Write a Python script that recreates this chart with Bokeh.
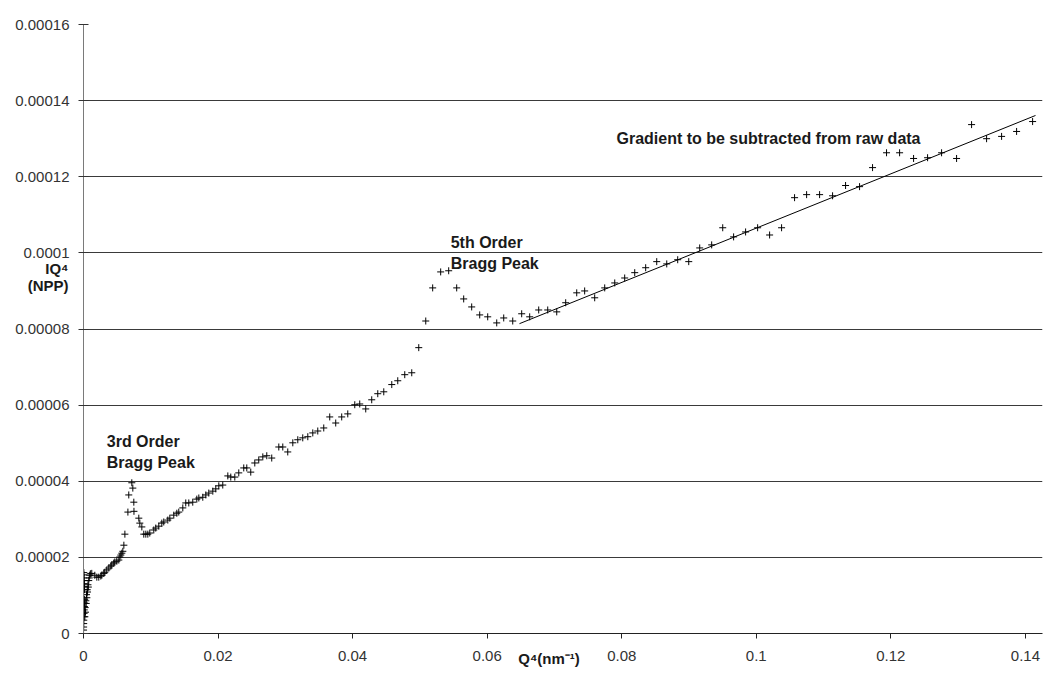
from bokeh.plotting import figure
from bokeh.models import Range1d, FixedTicker, CustomJSTickFormatter, Label, LinearAxis
from bokeh.embed import file_html
from bokeh.resources import INLINE

# Q^4 (nm^-4) and IQ^4 (NPP) readings
q4 = [
    0.00000, 0.00001, 0.00002, 0.00003, 0.00004, 0.00005, 0.00006, 0.00007,
    0.00008, 0.00009, 0.00010, 0.00011, 0.00012, 0.00013, 0.00014, 0.00015,
    0.00016, 0.00017,
    0.00020, 0.00025, 0.00030, 0.00035, 0.00040, 0.00045, 0.00050, 0.00055,
    0.00060, 0.00066, 0.00072, 0.00078, 0.00085, 0.00093, 0.00102,
    0.00123, 0.00168, 0.00198, 0.00227, 0.00257, 0.00272, 0.00302, 0.00317,
    0.00346, 0.00376, 0.00406, 0.00421, 0.00450, 0.00465, 0.00495, 0.00525,
    0.00540, 0.00555, 0.00570, 0.00585, 0.00600, 0.00615, 0.00660, 0.00673,
    0.00718, 0.00733, 0.00748, 0.00750, 0.00822, 0.00837, 0.00867, 0.00896,
    0.00926, 0.00956, 0.00985, 0.01045, 0.01074, 0.01119, 0.01164, 0.01193,
    0.01253, 0.01283, 0.01342, 0.01387, 0.01416, 0.01476, 0.01520, 0.01565,
    0.01624, 0.01684, 0.01714, 0.01773, 0.01818, 0.01862, 0.01922, 0.01966,
    0.02011, 0.02070, 0.02145, 0.02189, 0.02249, 0.02308, 0.02382, 0.02427,
    0.02486, 0.02546, 0.02605, 0.02665, 0.02724, 0.02798, 0.02903, 0.02962,
    0.03036, 0.03111, 0.03185, 0.03259, 0.03334, 0.03408, 0.03482, 0.03571,
    0.03660, 0.03749, 0.03838, 0.03928, 0.04032, 0.04106, 0.04195, 0.04284,
    0.04374, 0.04463, 0.04582, 0.04671, 0.04775, 0.04879, 0.04983, 0.05087,
    0.05190, 0.05309, 0.05428, 0.05547, 0.05651, 0.05770, 0.05889, 0.06008,
    0.06142, 0.06246, 0.06380, 0.06513, 0.06632, 0.06766, 0.06900, 0.07034,
    0.07167, 0.07331, 0.07449, 0.07598, 0.07747, 0.07896, 0.08044, 0.08193,
    0.08356, 0.08520, 0.08669, 0.08832, 0.08996, 0.09159, 0.09337, 0.09501,
    0.09663, 0.09841, 0.10020, 0.10198, 0.10376, 0.10569, 0.10748, 0.10941,
    0.11134, 0.11327, 0.11535, 0.11728, 0.11936, 0.12130, 0.12338, 0.12546,
    0.12754, 0.12977, 0.13200, 0.13423, 0.13646, 0.13869, 0.14107,
]
iq4 = [
    0.0e-6, 0.9e-6, 1.7e-6, 2.6e-6, 3.5e-6, 16.0e-6, 15.4e-6, 4.4e-6,
    14.6e-6, 5.3e-6, 13.9e-6, 6.2e-6, 13.1e-6, 7.1e-6, 12.3e-6, 8.0e-6,
    11.5e-6, 9.0e-6,
    4.4e-6, 6.8e-6, 5.6e-6, 8.6e-6, 7.9e-6, 10.2e-6, 9.4e-6, 11.5e-6,
    10.9e-6, 12.8e-6, 12.2e-6, 13.9e-6, 14.6e-6, 15.3e-6, 15.7e-6,
    15.8e-6, 15.3e-6, 14.8e-6, 14.8e-6, 15.1e-6, 15.3e-6, 15.8e-6, 16.1e-6,
    16.7e-6, 17.2e-6, 17.7e-6, 18.0e-6, 18.5e-6, 18.8e-6, 19.0e-6, 19.3e-6,
    20.1e-6, 20.6e-6, 21.1e-6, 21.6e-6, 23.2e-6, 26.1e-6, 31.9e-6, 36.4e-6,
    39.6e-6, 38.2e-6, 34.5e-6, 32.1e-6, 30.3e-6, 29.0e-6, 28.0e-6, 26.1e-6,
    26.1e-6, 26.1e-6, 26.4e-6, 27.2e-6, 27.7e-6, 28.2e-6, 29.0e-6, 29.3e-6,
    29.8e-6, 30.3e-6, 31.1e-6, 31.6e-6, 31.9e-6, 33.0e-6, 34.3e-6, 34.3e-6,
    34.5e-6, 35.3e-6, 35.6e-6, 35.8e-6, 36.4e-6, 36.9e-6, 37.4e-6, 38.0e-6,
    38.8e-6, 39.0e-6, 41.4e-6, 41.1e-6, 41.1e-6, 42.2e-6, 43.5e-6, 43.5e-6,
    42.4e-6, 44.8e-6, 45.6e-6, 46.4e-6, 46.7e-6, 46.1e-6, 49.0e-6, 49.0e-6,
    47.7e-6, 50.1e-6, 50.9e-6, 51.4e-6, 51.7e-6, 52.7e-6, 53.2e-6, 54.0e-6,
    56.9e-6, 55.3e-6, 56.9e-6, 57.7e-6, 60.1e-6, 60.3e-6, 59.0e-6, 61.4e-6,
    63.0e-6, 63.5e-6, 65.4e-6, 66.4e-6, 68.0e-6, 68.5e-6, 75.1e-6, 82.1e-6,
    90.8e-6, 95.0e-6, 95.3e-6, 90.8e-6, 87.9e-6, 85.8e-6, 83.7e-6, 83.2e-6,
    81.6e-6, 82.9e-6, 82.1e-6, 84.0e-6, 83.2e-6, 85.0e-6, 85.0e-6, 84.5e-6,
    86.9e-6, 89.5e-6, 90.0e-6, 88.2e-6, 90.8e-6, 92.1e-6, 93.4e-6, 94.8e-6,
    96.1e-6, 97.7e-6, 97.1e-6, 98.2e-6, 97.7e-6, 101.3e-6, 102.1e-6, 106.6e-6,
    104.2e-6, 105.5e-6, 106.6e-6, 104.7e-6, 106.6e-6, 114.5e-6, 115.3e-6, 115.3e-6,
    115.0e-6, 117.7e-6, 117.4e-6, 122.4e-6, 126.3e-6, 126.3e-6, 124.8e-6, 125.0e-6,
    126.3e-6, 124.8e-6, 133.7e-6, 130.0e-6, 130.6e-6, 131.9e-6, 134.5e-6,
]

# linear gradient fitted through the high-Q region
fit_q4 = [0.0648, 0.1415]
fit_iq4 = [81.4e-6, 136.1e-6]

x_ticks = [0.0, 0.02, 0.04, 0.06, 0.08, 0.10, 0.12, 0.14]
x_tick_labels = ["0", "0.02", "0.04", "0.06", "0.08", "0.1", "0.12", "0.14"]
y_ticks = [0.0, 0.00002, 0.00004, 0.00006, 0.00008, 0.00010, 0.00012, 0.00014, 0.00016]
y_tick_labels = ["0", "0.00002", "0.00004", "0.00006", "0.00008", "0.0001",
                 "0.00012", "0.00014", "0.00016"]

x_title = ["Q\u2074(nm\u207b\u00b9)"]
y_title = ["IQ\u2074", "(NPP)"]

FONT = "Liberation Sans"
TEXT = "#1a1a1a"

p = figure(
    width=1043, height=673,
    x_range=Range1d(0, 0.14254), y_range=Range1d(0, 0.00016),
    output_backend="svg", toolbar_location=None,
    min_border_left=83, min_border_right=1, min_border_top=24, min_border_bottom=40,
    outline_line_color=None, background_fill_color="white", border_fill_color="white",
)

label_code = """
let best = 0, d = Infinity;
for (let i = 0; i < tick_vals.length; i++) {
  const e = Math.abs(tick_vals[i] - tick);
  if (e < d) { d = e; best = i; }
}
return tick_text[best];
"""


def fmt(vals, texts):
    return CustomJSTickFormatter(args=dict(tick_vals=vals, tick_text=texts), code=label_code)


xa = p.xaxis[0]
xa.ticker = FixedTicker(ticks=x_ticks)
xa.formatter = fmt(x_ticks, x_tick_labels)
xa.axis_line_color = "#222222"
xa.major_tick_line_color = "#222222"
xa.major_tick_in = 0
xa.major_tick_out = 5
xa.minor_tick_line_color = None
xa.major_label_standoff = 12
xa.major_label_text_font = FONT
xa.major_label_text_font_size = "15px"
xa.major_label_text_color = "#333333"

ya = p.yaxis[0]
ya.ticker = FixedTicker(ticks=y_ticks)
ya.formatter = fmt(y_ticks, y_tick_labels)
ya.axis_line_color = "#7a7a7a"
ya.major_tick_line_color = "#333333"
ya.major_tick_in = 5
ya.major_tick_out = 5
ya.minor_tick_line_color = None
ya.major_label_standoff = 9
ya.major_label_text_font = FONT
ya.major_label_text_font_size = "15px"
ya.major_label_text_color = "#333333"


def title_axis(vals, texts, standoff):
    ax = LinearAxis(
        ticker=FixedTicker(ticks=vals), formatter=fmt(vals, texts),
        axis_line_color=None, major_tick_line_color=None, minor_tick_line_color=None,
        major_tick_in=0, major_tick_out=0, major_label_standoff=standoff,
        major_label_text_font=FONT, major_label_text_font_size="15px",
        major_label_text_font_style="bold", major_label_text_color=TEXT,
    )
    return ax


# axis titles, set as single-tick axes so they sit beside the tick labels
x_title_pos = [0.0692]
y_title_pos = [96.0e-6, 91.4e-6]
p.add_layout(title_axis(x_title_pos, x_title, -14), "below")
p.add_layout(title_axis(y_title_pos, y_title, -56), "left")

p.xgrid.grid_line_color = None
p.ygrid.grid_line_color = "#3a3a3a"
p.ygrid.grid_line_width = 1

# measured points and the fitted gradient
p.scatter(q4, iq4, marker="cross", size=7, line_color="black", line_width=1)
p.line(fit_q4, fit_iq4, line_color="black", line_width=1)


def note(x, y, text, align="left", size="16px"):
    p.add_layout(Label(
        x=x, y=y, text=text, text_align=align, text_baseline="alphabetic",
        text_font=FONT, text_font_size=size, text_font_style="bold", text_color=TEXT,
    ))


note(0.00346, 50.5e-6, "3rd Order")
note(0.00346, 44.8e-6, "Bragg Peak")
note(0.05458, 102.6e-6, "5th Order")
note(0.05458, 97.3e-6, "Bragg Peak")
note(0.12441, 130.1e-6, "Gradient to be subtracted from raw data", align="right")

open("out.html", "w").write(file_html(p, INLINE))
